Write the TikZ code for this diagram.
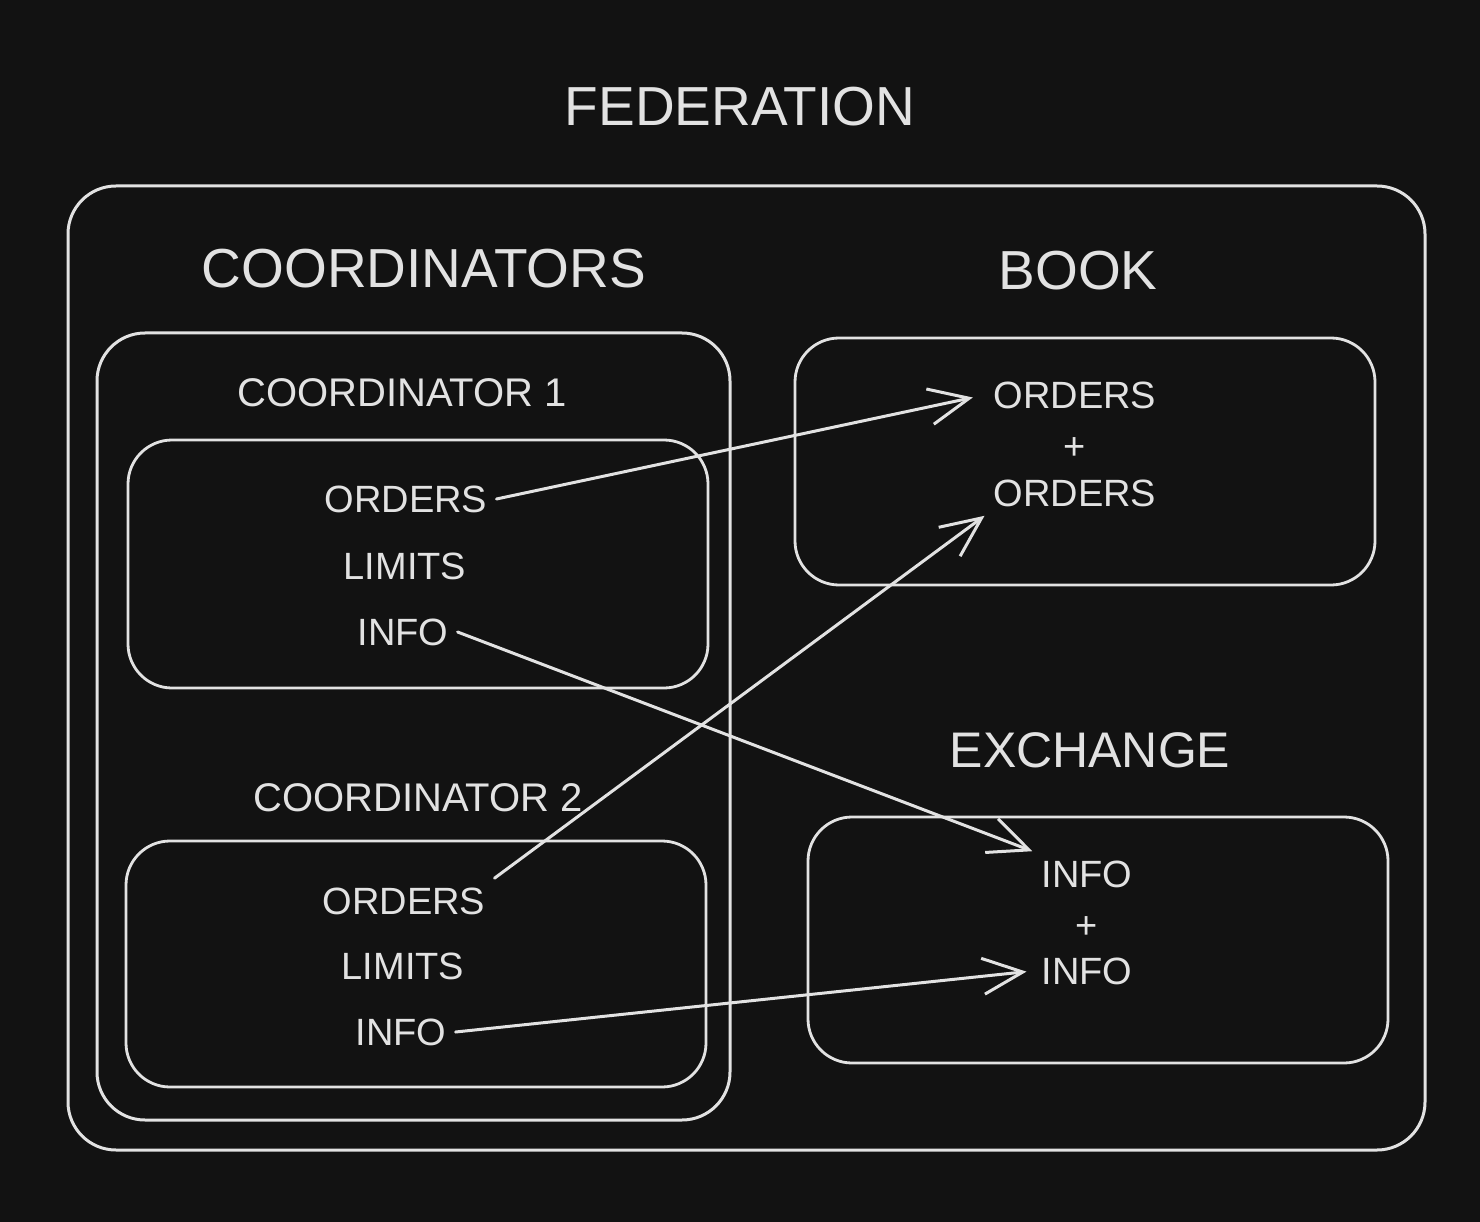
\documentclass[tikz,border=0pt]{standalone}
\usepackage{fontspec}
\setmainfont{Liberation Sans}
\usetikzlibrary{arrows.meta}
\definecolor{bg}{HTML}{121212}
\definecolor{fg}{HTML}{E2E2E2}
\begin{document}
\begin{tikzpicture}[x=1pt,y=-1pt,
  box/.style={draw=fg,line width=3pt,rounded corners=48pt,inner sep=0pt},
  ibox/.style={draw=fg,line width=2.8pt,rounded corners=44pt,inner sep=0pt},
  title/.style={text=fg,font=\fontsize{55}{60}\selectfont,text height=39.4pt,text depth=0pt,inner sep=0pt},
  sub/.style={text=fg,font=\fontsize{40}{44}\selectfont,text height=28.6pt,text depth=0pt,inner sep=0pt},
  item/.style={text=fg,font=\fontsize{38}{42}\selectfont,text height=27.2pt,text depth=0pt,inner sep=9pt},
  arr/.style={draw=fg,line width=3pt,line cap=round,-{Straight Barb[length=40pt,width=36pt,line width=3pt]}}
]
\fill[bg] (0,0) rectangle (1480,1222);
\useasboundingbox (0,0) rectangle (1480,1222);

% boxes
\node[box,minimum width=1357pt,minimum height=964pt] (fed) at (746.5,668) {};
\node[box,minimum width=633pt,minimum height=787pt] (coords) at (413.5,726.5) {};
\node[ibox,minimum width=580pt,minimum height=248pt] (c1) at (418,564) {};
\node[ibox,minimum width=580pt,minimum height=246pt] (c2) at (416,964) {};
\node[ibox,minimum width=580pt,minimum height=247pt] (book) at (1085,461.5) {};
\node[ibox,minimum width=580pt,minimum height=246pt] (exch) at (1098,940) {};

% titles
\node[title] (tfed) at (740,106) {FEDERATION};
\node[title] (tcoords) at (424,268) {COORDINATORS};
\node[title] (tbook) at (1078,270) {BOOK};
\node[title,font=\fontsize{50}{54}\selectfont,text height=35.8pt] (texch) at (1090,750) {EXCHANGE};
\node[sub] (tc1) at (402,392) {COORDINATOR 1};
\node[sub] (tc2) at (418,797) {COORDINATOR 2};

% coordinator 1 items
\node[item] (o1) at (406,499) {ORDERS};
\node[item] (l1) at (405,566) {LIMITS};
\node[item] (i1) at (403,632) {INFO};
% coordinator 2 items
\node[item] (o2) at (404,901) {ORDERS};
\node[item] (l2) at (403,966) {LIMITS};
\node[item] (i2) at (401,1032) {INFO};
% book
\node[item] (bo1) at (1075,395) {ORDERS};
\node[item] (bp) at (1075,446) {+};
\node[item] (bo2) at (1075,493) {ORDERS};
% exchange
\node[item] (ei1) at (1087,874) {INFO};
\node[item] (ep) at (1087,925) {+};
\node[item] (ei2) at (1087,971) {INFO};

% arrows
\draw[arr,shorten >=12pt] (o1.east) -- (bo1.west);
\draw[arr] (o2.north east) -- (bo2.south west);
\draw[arr] (i1.east) -- (ei1.north west);
\draw[arr,shorten >=6pt] (i2.east) -- (ei2.west);
\end{tikzpicture}
\end{document}
